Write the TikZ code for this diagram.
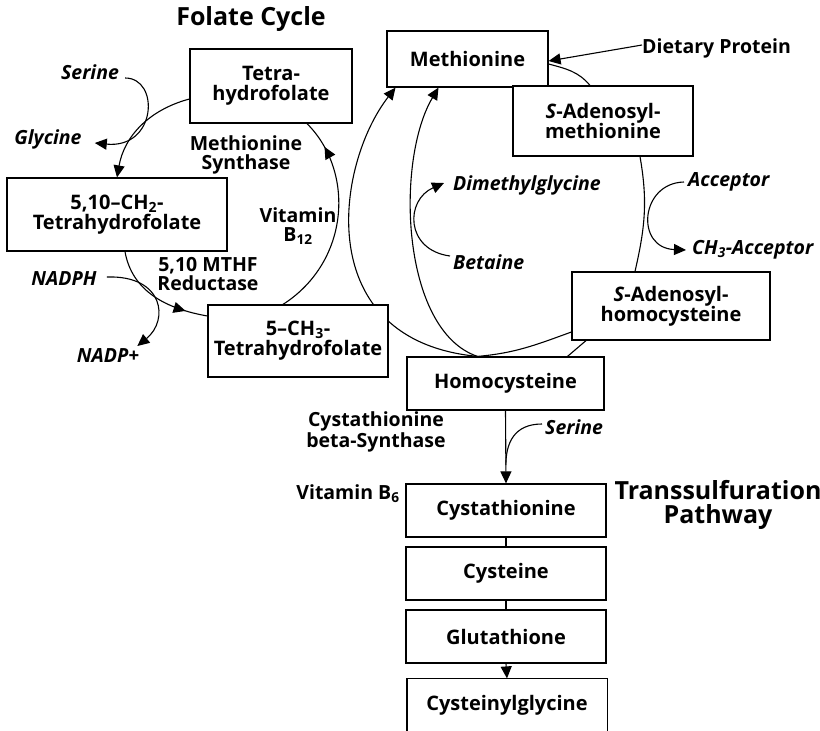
\documentclass[tikz,border=0pt]{standalone}
\usepackage{fontspec}
\setmainfont{Open Sans}
\usetikzlibrary{arrows.meta,decorations.markings,calc}
\pgfdeclarelayer{bg}
\pgfsetlayers{bg,main}
\begin{document}
\begin{tikzpicture}[x=1pt,y=1pt,
  box/.style={draw,fill=white,line width=1.2pt,inner sep=0pt,align=center,font=\bfseries\fontsize{20}{20}\selectfont},
  lbl/.style={inner sep=0pt,align=center,font=\bfseries\fontsize{19.5}{18.5}\selectfont},
  ilbl/.style={inner sep=0pt,font=\bfseries\itshape\fontsize{19.5}{18.5}\selectfont},
  ttl/.style={inner sep=0pt,align=center,font=\bfseries\fontsize{25}{24}\selectfont},
  con/.style={line width=1.1pt},
  arr/.style={con,-{Triangle[length=12pt,width=11pt]}},
  midarr/.style={con,postaction={decorate},decoration={markings,mark=at position #1 with {\arrow{Triangle[length=12pt,width=11pt]}}}},
]
\useasboundingbox (0,0) rectangle (820,-731);

% boxes
\node[box,minimum width=162pt,minimum height=74pt] (thf) at (271,-86) {Tetra-\\hydrofolate};
\node[box,minimum width=220pt,minimum height=73pt] (mch2) at (117,-214.5) {5,10--CH\textsubscript{2}-\\Tetrahydrofolate};
\node[box,minimum width=180pt,minimum height=72pt] (mch3) at (298,-341) {5--CH\textsubscript{3}-\\Tetrahydrofolate};
\node[box,minimum width=161pt,minimum height=56pt] (met) at (467.5,-59) {Methionine};
\node[box,minimum width=180pt,minimum height=70pt] (sam) at (603,-121) {\textit{S}-Adenosyl-\\methionine};
\node[box,minimum width=198pt,minimum height=68pt] (sah) at (671,-306) {\textit{S}-Adenosyl-\\homocysteine};
\node[box,minimum width=197pt,minimum height=53pt] (hcy) at (505.5,-383.5) {Homocysteine};
\node[box,minimum width=200pt,minimum height=53pt] (cysta) at (506,-510.5) {Cystathionine};
\node[box,minimum width=200pt,minimum height=53pt] (cys) at (506,-573.5) {Cysteine};
\node[box,minimum width=200pt,minimum height=53pt] (glu) at (506,-636.5) {Glutathione};
\node[box,draw=none,minimum width=199pt,minimum height=52pt] (cgly) at (507,-705) {Cysteinylglycine};
\draw[line width=1.2pt] (cgly.south west) -- (cgly.north west) -- (cgly.north east) -- (cgly.south east);

% labels
\node[ttl] (fc) at (251,-19) {Folate Cycle};
\node[lbl,anchor=west] (dp) at (642,-48) {Dietary Protein};
\node[lbl] (ms) at (246,-155) {Methionine\\Synthase};
\node[lbl] (b12) at (298,-226) {Vitamin\\B\textsubscript{12}};
\node[lbl] (mthf) at (208,-274) {5,10 MTHF\\Reductase};
\node[ilbl] (ser1) at (90,-72) {Serine};
\node[ilbl] (gly) at (48,-139) {Glycine};
\node[ilbl] (nadph) at (64,-279) {NADPH};
\node[ilbl] (nadp) at (108,-356) {NADP+};
\node[ilbl,anchor=west] (dmg) at (453,-185) {Dimethylglycine};
\node[ilbl,anchor=west] (bet) at (453,-262) {Betaine};
\node[ilbl,anchor=west] (acc) at (688,-182) {Acceptor};
\node[ilbl,anchor=west] (ch3acc) at (692,-250) {CH\textsubscript{3}-Acceptor};
\node[lbl] (cbs) at (376,-432) {Cystathionine\\beta-Synthase};
\node[lbl] (b6) at (348,-494) {Vitamin B\textsubscript{6}};
\node[ilbl,anchor=west] (ser2) at (545,-427) {Serine};
\node[ttl] (tsp) at (718,-505) {Transsulfuration\\Pathway};

\coordinate (j) at ($(hcy.south)!0.75!(cysta.north)$);

\begin{pgfonlayer}{bg}
% folate cycle
\draw[arr] ([yshift=-13pt]thf.west) to[out=195,in=80] (mch2.north);
\draw[arr] ([xshift=6pt,yshift=-6pt]ser1.east) .. controls +(35,0) and +(62,-6) .. ([xshift=13pt,yshift=-4pt]gly.east);
\draw[midarr=0.8] ([xshift=8pt]mch2.south) to[out=-80,in=170] ([yshift=25pt]mch3.west);
\draw[arr] ([xshift=10pt,yshift=2pt]nadph.east) .. controls +(57,2) and +(32,26) .. ([xshift=-2pt,yshift=10pt]nadp.east);
\draw[midarr=0.86] ([xshift=-15pt]mch3.north) .. controls +(67,43) and +(48,-48) .. ([xshift=36pt]thf.south);
% methionine cycle
\draw[arr] ([xshift=-28pt]hcy.north) .. controls +(-167,16) and +(-60,-77) .. ([xshift=-72pt]met.south);
\draw[arr] ([xshift=-28pt]hcy.north) .. controls +(-77,26) and +(-43,-72) .. ([xshift=-29pt]met.south);
\draw[arr] ([xshift=-3pt,yshift=6pt]bet.west) .. controls +(-45,6) and +(-39,-17) .. ([xshift=-9pt,yshift=2pt]dmg.west);
\draw[arr] ([yshift=3pt]dp.west) -- ([yshift=-2pt]met.east);
\draw[con] ([yshift=-5pt]met.east) to[out=-15,in=130] ([xshift=-13pt]sam.north);
\draw[con] ([xshift=37pt]sam.south) to[out=-80,in=77] ([xshift=-36pt]sah.north);
\draw[arr] ([xshift=-4pt]acc.west) .. controls +(-44,-1) and +(-51,2) .. ([xshift=-6pt]ch3acc.west);
\draw[con] ([yshift=-26pt]sah.west) to[out=200,in=5] ([xshift=-28pt]hcy.north);
\draw[con] ([xshift=-85pt]sah.south) -- ([xshift=62pt]hcy.north);
% transsulfuration
\draw[arr] (hcy.south) -- (cysta.north);
\draw[con] ([xshift=-3pt,yshift=3pt]ser2.west) .. controls +(-28,0) and +(0,22) .. (j);
\draw[con] (cysta.south) -- (cys.north);
\draw[con] (cys.south) -- (glu.north);
\draw[arr] (glu.south) -- (cgly.north);
\end{pgfonlayer}
\end{tikzpicture}
\end{document}
